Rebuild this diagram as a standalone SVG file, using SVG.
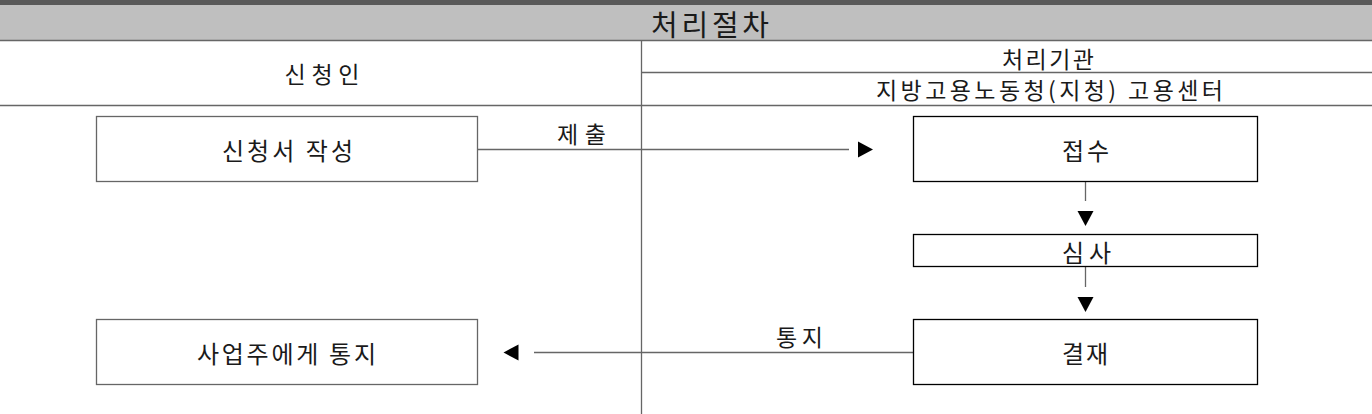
<svg xmlns="http://www.w3.org/2000/svg" xmlns:xlink="http://www.w3.org/1999/xlink" width="1372" height="414" viewBox="0 0 1372 414">
<style>
  text { font-family: "Noto Sans CJK KR", "Noto Sans", sans-serif; fill: #1a1a1a; text-anchor: middle; dominant-baseline: central; }
  .title { font-size: 29px; }
  .hdr { font-size: 23px; }
  .lbl { font-size: 24px; }
  .grid { stroke: #666; stroke-width: 1.3; fill: none; }
  .boxL { fill: #fff; stroke: #666; stroke-width: 1.3; }
  .boxR { fill: #fff; stroke: #000; stroke-width: 1.3; }
  .conn { stroke: #666; stroke-width: 1.3; fill: none; }
  .head { fill: #000; }
</style>
<defs>
  <path id="tri" d="M0,-8 L15,0 L0,8 Z"/>
</defs>
<rect x="0" y="0" width="1372" height="414" fill="#fff"/>
<g id="header">
  <rect x="0" y="0" width="1372" height="5" fill="#595959"/>
  <rect x="0" y="5" width="1372" height="35" fill="#bfbfbf"/>
  <text class="title" x="710" y="22.5" textLength="118" lengthAdjust="spacing">처리절차</text>
</g>
<g id="grid" class="grid">
  <line x1="0" y1="40.5" x2="1372" y2="40.5"/>
  <line x1="641.5" y1="72.5" x2="1372" y2="72.5"/>
  <line x1="0" y1="105.5" x2="1372" y2="105.5"/>
  <line x1="641.5" y1="40" x2="641.5" y2="414"/>
</g>
<g id="lane-applicant">
  <text class="hdr" x="322" y="73" textLength="75" lengthAdjust="spacing">신청인</text>
</g>
<g id="lane-agency">
  <text class="hdr" x="1048" y="57.5" textLength="92" lengthAdjust="spacing">처리기관</text>
  <text class="hdr" x="1049.5" y="89" textLength="347" lengthAdjust="spacing">지방고용노동청(지청) 고용센터</text>
</g>
<g id="connectors">
  <line class="conn" x1="477.5" y1="149.5" x2="849" y2="149.5"/>
  <use xlink:href="#tri" class="head" transform="translate(858,149.5)"/>
  <text class="hdr" x="581.5" y="133" textLength="49" lengthAdjust="spacing">제출</text>
  <line class="conn" x1="1085.5" y1="181" x2="1085.5" y2="201"/>
  <use xlink:href="#tri" class="head" transform="translate(1085.5,211) rotate(90)"/>
  <line class="conn" x1="1085.5" y1="267" x2="1085.5" y2="287"/>
  <use xlink:href="#tri" class="head" transform="translate(1085.5,297) rotate(90)"/>
  <line class="conn" x1="913" y1="352.5" x2="534" y2="352.5"/>
  <use xlink:href="#tri" class="head" transform="translate(518.5,352.5) rotate(180)"/>
  <text class="hdr" x="799.5" y="336" textLength="47" lengthAdjust="spacing">통지</text>
</g>
<g id="node-write">
  <rect class="boxL" x="96.5" y="116.5" width="381" height="65"/>
  <text class="lbl" x="287.5" y="149.5" textLength="131" lengthAdjust="spacing">신청서 작성</text>
</g>
<g id="node-notify">
  <rect class="boxL" x="96.5" y="319.5" width="381" height="65"/>
  <text class="lbl" x="286.5" y="352.5" textLength="179" lengthAdjust="spacing">사업주에게 통지</text>
</g>
<g id="node-receive">
  <rect class="boxR" x="913.5" y="116.5" width="344" height="65"/>
  <text class="lbl" x="1085.5" y="149" textLength="47" lengthAdjust="spacing">접수</text>
</g>
<g id="node-review">
  <rect class="boxR" x="913.5" y="234.5" width="344" height="32"/>
  <text class="lbl" x="1086.5" y="251.5" textLength="49" lengthAdjust="spacing">심사</text>
</g>
<g id="node-approve">
  <rect class="boxR" x="913.5" y="319.5" width="344" height="65"/>
  <text class="lbl" x="1085" y="352" textLength="46" lengthAdjust="spacing">결재</text>
</g>
</svg>
